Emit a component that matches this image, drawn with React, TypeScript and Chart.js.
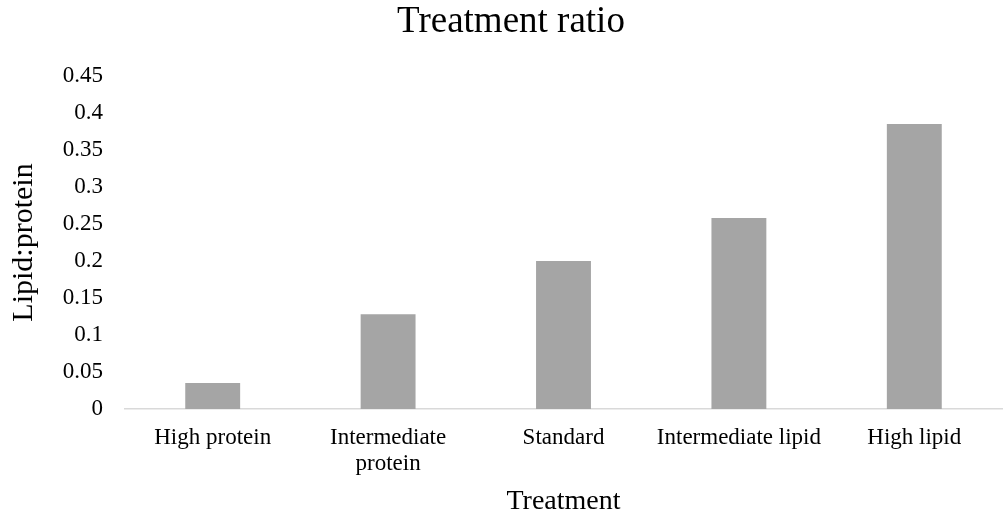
import React, { useEffect, useRef } from "react";
import { Chart, registerables } from "chart.js";

Chart.register(...registerables);

const categories: (string | string[])[] = [
  "High protein",
  ["Intermediate", "protein"],
  "Standard",
  "Intermediate lipid",
  "High lipid",
];
const ratioValues: number[] = [0.035, 0.128, 0.2, 0.258, 0.385];
const yTickLabels: string[] = ["0", "0.05", "0.1", "0.15", "0.2", "0.25", "0.3", "0.35", "0.4", "0.45"];

const chartTitle = "Treatment ratio";
const xTitle = "Treatment";
const yTitle = "Lipid:protein";

const W = 1003;
const H = 527;
const FONT = "'Liberation Serif', 'Times New Roman', serif";

export default function App() {
  const ref = useRef<HTMLCanvasElement | null>(null);

  useEffect(() => {
    if (!ref.current) return;
    const chart = new Chart(ref.current, {
      type: "bar",
      data: {
        labels: categories,
        datasets: [
          {
            data: ratioValues,
            backgroundColor: "#A5A5A5",
            borderWidth: 0,
            barPercentage: 0.313,
            categoryPercentage: 1,
          },
        ],
      },
      options: {
        animation: false,
        responsive: false,
        devicePixelRatio: 1,
        layout: { padding: { top: 0, right: 1, bottom: 0, left: 20 } },
        plugins: {
          legend: { display: false },
          tooltip: { enabled: false },
          title: {
            display: true,
            text: chartTitle,
            color: "#000000",
            font: { family: FONT, size: 37, weight: "normal", lineHeight: 1.1 },
            padding: { top: 2, bottom: 33.3 },
          },
        },
        scales: {
          x: {
            grid: { display: false, drawTicks: false },
            border: { display: true, color: "#D9D9D9", width: 1.5 },
            ticks: {
              color: "#000000",
              font: { family: FONT, size: 23, lineHeight: 1.17 },
              padding: 15,
              maxRotation: 0,
              minRotation: 0,
              autoSkip: false,
            },
            title: {
              display: true,
              text: xTitle,
              color: "#000000",
              font: { family: FONT, size: 28, lineHeight: 1.2 },
              padding: { top: 0, bottom: 9 },
            },
            afterFit: (scale: any) => {
              scale.height = 118;
            },
          },
          y: {
            min: 0,
            max: 0.45,
            grid: { display: false, drawTicks: false },
            border: { display: false },
            ticks: {
              stepSize: 0.05,
              color: "#000000",
              font: { family: FONT, size: 23, lineHeight: 1.2 },
              padding: 22,
              callback: (_v: any, i: number) => yTickLabels[i],
            },
            title: {
              display: true,
              text: yTitle,
              color: "#000000",
              font: { family: FONT, size: 30, lineHeight: 0.27 },
              padding: { top: 0, bottom: 0 },
            },
            afterFit: (scale: any) => {
              scale.width = 105;
            },
          },
        },
      },
    });
    return () => chart.destroy();
  }, []);

  return (
    <div style={{ position: "absolute", left: 0, top: 0, width: W, height: H, background: "#ffffff" }}>
      <canvas ref={ref} width={W} height={H} style={{ display: "block", width: W, height: H }} />
    </div>
  );
}
